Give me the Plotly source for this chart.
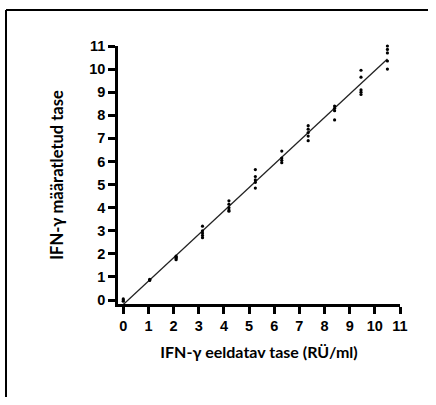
import numpy as np
import plotly.graph_objects as go

# Expected IFN-γ level (x) and measured replicates (y)
x_levels = [0.0, 1.05, 2.1, 3.15, 4.2, 5.25, 6.3, 7.35, 8.4, 9.45, 10.5]
y_replicates = [
    [0.05, 0.0, -0.05],
    [0.85, 0.88, 0.9],
    [1.75, 1.8, 1.85, 1.9],
    [3.2, 3.0, 2.9, 2.8, 2.7],
    [4.3, 4.15, 4.0, 3.9, 3.85],
    [5.65, 5.35, 5.2, 5.1, 4.85],
    [6.45, 6.15, 6.05, 5.95],
    [7.55, 7.4, 7.25, 7.1, 6.9],
    [8.4, 8.3, 8.2, 7.8],
    [9.95, 9.65, 9.1, 9.0, 8.9],
    [11.0, 10.85, 10.7, 10.35, 10.0],
]
tick_vals = list(range(0, 12))

xs, ys = [], []
for xv, reps in zip(x_levels, y_replicates):
    for r in reps:
        xs.append(xv)
        ys.append(r)
xs = np.array(xs)
ys = np.array(ys)
slope, intercept = np.polyfit(xs, ys, 1)
line_x = np.array([min(x_levels), max(x_levels)])
line_y = slope * line_x + intercept

fig = go.Figure()
fig.add_trace(go.Scatter(x=line_x, y=line_y, mode="lines",
                         line=dict(color="#222", width=1.3), showlegend=False))
fig.add_trace(go.Scatter(x=xs, y=ys, mode="markers",
                         marker=dict(color="black", size=3.2, symbol="circle"),
                         showlegend=False, cliponaxis=False))

W, H = 436, 405
L, R, T, B = 118, 36, 46, 101
pw, ph = W - L - R, H - T - B

axis_common = dict(showgrid=False, zeroline=False, showline=True, linecolor="black",
                   linewidth=2.5, ticks="outside", ticklen=7, tickwidth=2.5,
                   tickcolor="black", tickvals=tick_vals,
                   tickfont=dict(family="Liberation Sans", size=14.5, color="black", weight="bold"))

fig.update_xaxes(range=[-0.21, 11.0],
                 title=dict(text="IFN-γ eeldatav tase (RÜ/ml)",
                            font=dict(family="Lato", size=16, color="black", weight="bold"),
                            standoff=14),
                 **axis_common)
fig.update_yaxes(range=[-0.17, 11.0],
                 title=dict(text="IFN-γ määratletud tase",
                            font=dict(family="Lato", size=16.5, color="black", weight="bold"),
                            standoff=22),
                 **axis_common)

# outer frame: left and top edges
x_left = (6 - L) / pw
x_right = (W - L - 8) / pw
y_top = (H - B - 10) / ph
y_bottom = -(B - 8) / ph
fig.add_shape(type="line", xref="paper", yref="paper",
              x0=x_left, x1=x_left, y0=y_bottom, y1=y_top,
              line=dict(color="black", width=2))
fig.add_shape(type="line", xref="paper", yref="paper",
              x0=x_left, x1=x_right, y0=y_top, y1=y_top,
              line=dict(color="black", width=2))

fig.update_layout(width=W, height=H, margin=dict(l=L, r=R, t=T, b=B),
                  plot_bgcolor="white", paper_bgcolor="white")

fig.write_html("out.html")
